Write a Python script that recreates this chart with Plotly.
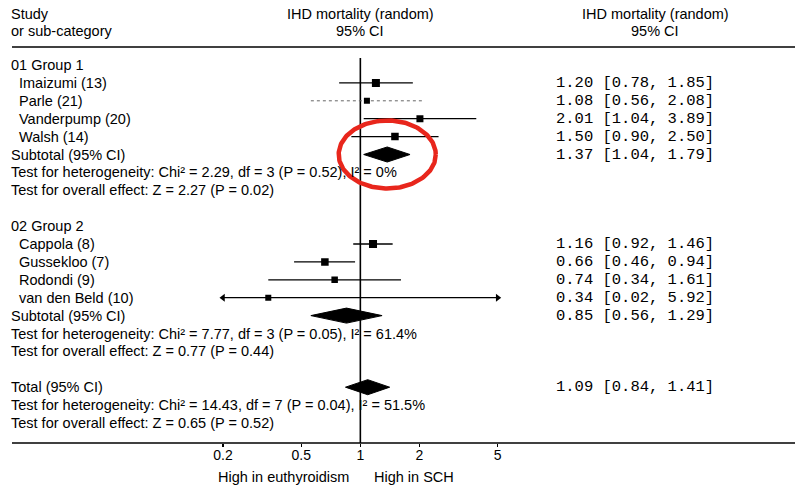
import numpy as np
import plotly.graph_objects as go

# ---------------- data ----------------
group1_label = "01 Group 1"
group1_studies = ["Imaizumi (13)", "Parle (21)", "Vanderpump (20)", "Walsh (14)"]
group1_rr = [1.20, 1.08, 2.01, 1.50]
group1_lo = [0.78, 0.56, 1.04, 0.90]
group1_hi = [1.85, 2.08, 3.89, 2.50]
group1_weight = [13.3, 6.7, 10.0, 11.7]

group2_label = "02 Group 2"
group2_studies = ["Cappola (8)", "Gussekloo (7)", "Rodondi (9)", "van den Beld (10)"]
group2_rr = [1.16, 0.66, 0.74, 0.34]
group2_lo = [0.92, 0.46, 0.34, 0.02]
group2_hi = [1.46, 0.94, 1.61, 5.92]
group2_weight = [13.3, 11.7, 8.3, 6.7]

subtotal_labels = ["Subtotal (95% CI)", "Subtotal (95% CI)", "Total (95% CI)"]
pooled_rr = [1.37, 0.85, 1.09]
pooled_lo = [1.04, 0.56, 0.84]
pooled_hi = [1.79, 1.29, 1.41]

heterogeneity_texts = [
    "Test for heterogeneity: Chi² = 2.29, df = 3 (P = 0.52), I² = 0%",
    "Test for heterogeneity: Chi² = 7.77, df = 3 (P = 0.05), I² = 61.4%",
    "Test for heterogeneity: Chi² = 14.43, df = 7 (P = 0.04), I² = 51.5%",
]
overall_texts = [
    "Test for overall effect: Z = 2.27 (P = 0.02)",
    "Test for overall effect: Z = 0.77 (P = 0.44)",
    "Test for overall effect: Z = 0.65 (P = 0.52)",
]

tick_values = [0.2, 0.5, 1, 2, 5]
tick_labels = ["0.2", "0.5", "1", "2", "5"]
axis_limits = [0.2, 5]
favours_left = "High in euthyroidism"
favours_right = "High in SCH"
header_left = ["Study", "or sub-category"]
header_mid = ["IHD mortality (random)", "95% CI"]
header_right = ["IHD mortality (random)", "95% CI"]

# ---------------- layout geometry (window pixels) ----------------
W, H = 796, 486
ROW0_PX, ROW_PX = 65.0, 17.9
BOTTOM_PX = 443.0


def row_of(px):
    return (px - ROW0_PX) / ROW_PX


def px_x(px):
    return px / W


def px_y(px):
    return 1 - px / H


SANS = "Arial, Liberation Sans, sans-serif"
MONO = "Courier New, Liberation Mono, monospace"
FS = 14.5

rows_g1_header = 0
rows_g1 = [1, 2, 3, 4]
rows_g2_header = 9
rows_g2 = [10, 11, 12, 13]
rows_pooled = [5, 14, 18]
rows_het = [6, 15, 19]
rows_overall = [7, 16, 20]

fig = go.Figure()

# reference line at 1
fig.add_trace(go.Scatter(x=[1, 1], y=[row_of(58), row_of(BOTTOM_PX)], mode="lines",
                         line=dict(color="black", width=1.6), hoverinfo="skip",
                         showlegend=False))

annotations = []

all_rows = rows_g1 + rows_g2
all_rr = group1_rr + group2_rr
all_lo = group1_lo + group2_lo
all_hi = group1_hi + group2_hi
all_w = group1_weight + group2_weight
all_names = group1_studies + group2_studies

for i, (r, rr, lo, hi, w) in enumerate(zip(all_rows, all_rr, all_lo, all_hi, all_w)):
    lo_c = max(lo, axis_limits[0])
    hi_c = min(hi, axis_limits[1])
    dotted = all_names[i].startswith("Parle")
    fig.add_trace(go.Scatter(
        x=[lo_c, hi_c], y=[r, r], mode="lines",
        line=dict(color="#666" if dotted else "black", width=1.0 if dotted else 1.3,
                  dash="dot" if dotted else "solid"),
        hoverinfo="skip", showlegend=False))
    if lo < axis_limits[0]:
        fig.add_trace(go.Scatter(x=[lo_c], y=[r], mode="markers",
                                 marker=dict(symbol="triangle-left", size=7, color="black"),
                                 cliponaxis=False, hoverinfo="skip", showlegend=False))
    if hi > axis_limits[1]:
        fig.add_trace(go.Scatter(x=[hi_c], y=[r], mode="markers",
                                 marker=dict(symbol="triangle-right", size=7, color="black"),
                                 cliponaxis=False, hoverinfo="skip", showlegend=False))
    fig.add_trace(go.Scatter(x=[rr], y=[r], mode="markers",
                             marker=dict(symbol="square", size=4 + 0.3 * w, color="black",
                                         line=dict(width=0)),
                             hoverinfo="skip", showlegend=False))

# pooled diamonds
HALF = 0.42
for r, rr, lo, hi in zip(rows_pooled, pooled_rr, pooled_lo, pooled_hi):
    fig.add_trace(go.Scatter(x=[lo, rr, hi, rr, lo], y=[r, r - HALF, r, r + HALF, r],
                             mode="lines", fill="toself", fillcolor="black",
                             line=dict(color="black", width=1), hoverinfo="skip",
                             showlegend=False))

# red highlight ellipse around the first subtotal
t = np.linspace(0, 2 * np.pi, 200)
cx = np.log10(pooled_rr[0])
ex = 10 ** (cx + 0.247 * np.cos(t))
ey = rows_pooled[0] + 1.9 * np.sin(t)
fig.add_trace(go.Scatter(x=ex, y=ey, mode="lines", line=dict(color="#e8261c", width=4.5),
                         hoverinfo="skip", showlegend=False))


def add_text(text, ypx_or_row, xpx, anchor="left", family=SANS, size=FS, paper_y=False):
    annotations.append(dict(text=text, x=px_x(xpx), xref="paper",
                            y=px_y(ypx_or_row) if paper_y else ypx_or_row,
                            yref="paper" if paper_y else "y",
                            xanchor=anchor, yanchor="middle", showarrow=False,
                            borderpad=0, borderwidth=0,
                            font=dict(family=family, size=size, color="black")))


def mono_text(text, row):
    add_text(text, row, 556, "left", MONO, 15.5)


# headers
add_text(header_left[0], 13.5, 11, paper_y=True)
add_text(header_left[1], 31, 11, paper_y=True)
add_text(header_mid[0], 13.5, 360, "center", paper_y=True)
add_text(header_mid[1], 31, 360, "center", paper_y=True)
add_text(header_right[0], 13.5, 655, "center", paper_y=True)
add_text(header_right[1], 31, 655, "center", paper_y=True)

add_text(group1_label, rows_g1_header, 11)
add_text(group2_label, rows_g2_header, 11)
for name, r in zip(all_names, all_rows):
    add_text(name, r, 19)
for rr, lo, hi, r in zip(all_rr, all_lo, all_hi, all_rows):
    mono_text(f"{rr:.2f} [{lo:.2f}, {hi:.2f}]", r)
for i in range(3):
    add_text(subtotal_labels[i], rows_pooled[i], 11)
    add_text(heterogeneity_texts[i], rows_het[i], 11)
    add_text(overall_texts[i], rows_overall[i], 11)
    mono_text(f"{pooled_rr[i]:.2f} [{pooled_lo[i]:.2f}, {pooled_hi[i]:.2f}]", rows_pooled[i])

# favours labels (placed relative to the line of no effect)
annotations.append(dict(text=favours_left, x=0, xref="x", y=px_y(477), yref="paper",
                        xanchor="right", yanchor="middle", xshift=-11, showarrow=False,
                        borderpad=0, borderwidth=0,
                        font=dict(family=SANS, size=FS, color="black")))
annotations.append(dict(text=favours_right, x=0, xref="x", y=px_y(477), yref="paper",
                        xanchor="left", yanchor="middle", xshift=14, showarrow=False,
                        borderpad=0, borderwidth=0,
                        font=dict(family=SANS, size=FS, color="black")))

shapes = [
    dict(type="line", xref="paper", yref="paper", x0=px_x(12), x1=px_x(795),
         y0=px_y(47), y1=px_y(47), line=dict(color="black", width=1.5)),
    dict(type="line", xref="paper", yref="paper", x0=px_x(12), x1=px_x(795),
         y0=px_y(BOTTOM_PX), y1=px_y(BOTTOM_PX), line=dict(color="black", width=1.5)),
]

fig.update_layout(
    width=W, height=H,
    autosize=False,
    margin=dict(l=0, r=0, t=0, b=0, pad=0, autoexpand=False),
    paper_bgcolor="white", plot_bgcolor="rgba(0,0,0,0)",
    showlegend=False,
    hovermode=False,
    annotations=annotations,
    shapes=shapes,
    xaxis=dict(type="log", domain=[px_x(223), px_x(497.7)],
               range=[np.log10(axis_limits[0]), np.log10(axis_limits[1])],
               tickvals=tick_values, ticktext=tick_labels, ticks="outside", ticklen=3,
               tickcolor="black", tickwidth=1.2, showgrid=False, zeroline=False,
               showline=False, automargin=False, ticklabelstandoff=-4,
               tickfont=dict(family=SANS, size=14, color="black"),
               fixedrange=True),
    yaxis=dict(domain=[px_y(BOTTOM_PX), 1],
               range=[row_of(BOTTOM_PX), row_of(0)],
               showticklabels=False, showgrid=False, zeroline=False, showline=False,
               ticks="", automargin=False, fixedrange=True),
)

fig.write_html("out.html",
               config={"displayModeBar": False, "staticPlot": True},
               post_script="document.body.style.margin='0px';document.body.style.overflow='hidden';")
